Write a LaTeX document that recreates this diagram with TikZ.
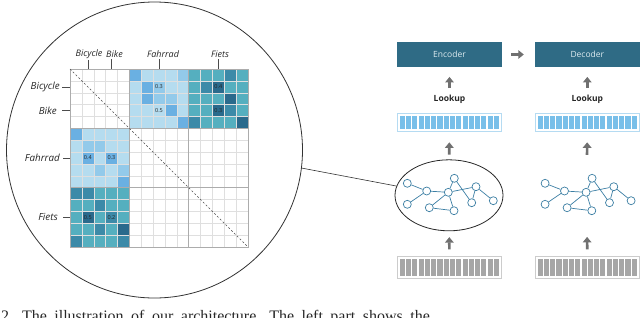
\documentclass[tikz,border=0pt]{standalone}
\usepackage{fontspec}
\setmainfont{Liberation Serif}
\newfontfamily\osans{Open Sans}
\usetikzlibrary{arrows.meta,shapes.geometric}
\definecolor{cL}{HTML}{B5DCEF}
\definecolor{cM}{HTML}{6AB0E2}
\definecolor{cN}{HTML}{93CAEA}
\definecolor{cT}{HTML}{55AFBF}
\definecolor{cD}{HTML}{3C8AA8}
\definecolor{cK}{HTML}{2A6A8C}
\definecolor{cW}{HTML}{FFFFFF}
\definecolor{encc}{HTML}{2F6B85}
\definecolor{enctext}{HTML}{DDEBF0}
\definecolor{arrc}{HTML}{707070}
\definecolor{bluecell}{HTML}{78BFE9}
\definecolor{blueframe}{HTML}{B5DBF2}
\definecolor{graycell}{HTML}{A6A6A6}
\definecolor{grayframe}{HTML}{CCCCCC}
\definecolor{graphc}{HTML}{3B7EA3}
\begin{document}
\begin{tikzpicture}[x=1pt,y=-1pt,
  lab/.style={font=\osans\itshape\fontsize{9}{10}\selectfont, inner sep=0pt, text=black!85},
  leftlab/.style={font=\osans\itshape\fontsize{9.8}{11}\selectfont, inner sep=0pt, text=black!85},
  num/.style={font=\osans\fontsize{5.5}{6}\selectfont, inner sep=0pt, text=black!85},
  tick/.style={draw=black!70, line width=0.6pt},
  boxnode/.style={fill=encc, minimum width=104.4pt, minimum height=25.6pt, inner sep=0pt, text=enctext, font=\osans\fontsize{8.5}{10}\selectfont},
  lookup/.style={font=\osans\bfseries\fontsize{8.5}{10}\selectfont, text=black!85, inner sep=0pt},
  fatarrow/.style={draw=arrc, line width=2.7pt, -{Triangle[width=8.5pt,length=5.5pt]}},
  gnode/.style={circle, draw=graphc, fill=white, line width=0.7pt, minimum size=8pt, inner sep=0pt},
  gedge/.style={draw=graphc, line width=0.7pt},
  barnode/.style={minimum width=104.4pt, inner sep=0pt, line width=1.2pt, fill=white}
]
\useasboundingbox (0,0) rectangle (640,317);
\clip (0,0) rectangle (640,317);

% ---------------- similarity matrix ----------------
\def\mx{70}\def\my{69}\def\ms{11.8667}
\foreach \row [count=\r from 0] in {
 {W,W,W,W,W,M,L,L,L,N,T,T,T,D,T},
 {W,W,W,W,W,L,M,N,L,L,T,D,K,T,T},
 {W,W,W,W,W,L,M,N,N,L,T,T,T,K,T},
 {W,W,W,W,W,L,L,L,M,L,T,T,K,D,T},
 {W,W,W,W,W,L,L,L,L,M,D,T,T,T,K},
 {M,L,L,L,L,W,W,W,W,W,W,W,W,W,W},
 {L,N,N,L,L,W,W,W,W,W,W,W,W,W,W},
 {L,M,L,M,L,W,W,W,W,W,W,W,W,W,W},
 {L,L,N,L,N,W,W,W,W,W,W,W,W,W,W},
 {L,L,L,L,M,W,W,W,W,W,W,W,W,W,W},
 {D,D,T,T,T,W,W,W,W,W,W,W,W,W,W},
 {T,T,D,T,T,W,W,W,W,W,W,W,W,W,W},
 {T,K,T,D,T,W,W,W,W,W,W,W,W,W,W},
 {T,T,D,T,K,W,W,W,W,W,W,W,W,W,W},
 {D,T,T,T,D,W,W,W,W,W,W,W,W,W,W}} {
  \foreach \c [count=\k from 0] in \row {
    \fill[c\c] ({\mx+\k*\ms},{\my+\r*\ms}) rectangle ++(\ms,\ms);
  }
}
\foreach \i in {1,...,14} {
  \draw[gray!25, line width=0.4pt] ({\mx+\i*\ms},\my) -- ++(0,178);
  \draw[gray!25, line width=0.4pt] (\mx,{\my+\i*\ms}) -- ++(178,0);
}
\foreach \i in {5,10} {
  \draw[gray!65, line width=0.6pt] ({\mx+\i*\ms},\my) -- ++(0,178);
  \draw[gray!65, line width=0.6pt] (\mx,{\my+\i*\ms}) -- ++(178,0);
}
\draw[gray!65, line width=0.7pt] (\mx,\my) rectangle ++(178,178);
\draw[black!70, line width=0.5pt, dash pattern=on 2pt off 2pt] (\mx,\my) -- ++(178,178);

\node[num] (v1) at (159,86.8) {0.3};
\node[num] (v2) at (159,110.5) {0.5};
\node[num] (v3) at (218.3,86.8) {0.4};
\node[num] (v4) at (218.3,110.5) {0.3};
\node[num] (v5) at (87.8,158) {0.4};
\node[num] (v6) at (111.5,158) {0.3};
\node[num] (v7) at (87.8,217.3) {0.5};
\node[num] (v8) at (111.5,217.3) {0.2};

% top labels
\node[lab] (tBicycle) at (89,54) {Bicycle};
\node[lab] (tBike) at (114.5,54) {Bike};
\node[lab] (tFahrrad) at (163,54) {Fahrrad};
\node[lab] (tFiets) at (220,54) {Fiets};
\coordinate (mBicycleT) at (87.8,69);
\coordinate (mBikeT) at (111.5,69);
\coordinate (mFahrradT) at (159,69);
\coordinate (mFietsT) at (218.3,69);
\draw[tick] (mBicycleT |- tBicycle.south) ++(0,1.5) -- (mBicycleT);
\draw[tick] (mBikeT |- tBike.south) ++(0,1.5) -- (mBikeT);
\draw[tick] (mFahrradT |- tFahrrad.south) ++(0,1.5) -- (mFahrradT);
\draw[tick] (mFietsT |- tFiets.south) ++(0,1.5) -- (mFietsT);

% left labels
\node[leftlab, anchor=east] (lBicycle) at (60,86.8) {Bicycle};
\node[leftlab, anchor=east] (lBike) at (57,110.5) {Bike};
\node[leftlab, anchor=east] (lFahrrad) at (60,158) {Fahrrad};
\node[leftlab, anchor=east] (lFiets) at (58,217.3) {Fiets};
\coordinate (mBicycleL) at (70,86.8);
\coordinate (mBikeL) at (70,110.5);
\coordinate (mFahrradL) at (70,158);
\coordinate (mFietsL) at (70,217.3);
\draw[tick, shorten <=2pt] (lBicycle.east) -- (mBicycleL);
\draw[tick, shorten <=5pt] (lBike.east) -- (mBikeL);
\draw[tick, shorten <=3pt] (lFahrrad.east) -- (mFahrradL);
\draw[tick, shorten <=5pt] (lFiets.east) -- (mFietsL);

% magnifier circle
\node[circle, draw=black!80, line width=0.8pt, minimum size=296pt, inner sep=0pt] (zoom) at (154.5,150) {};

% ---------------- right part ----------------
\node[boxnode] (enc) at (449.5,54.5) {Encoder};
\node[boxnode] (dec) at (587.3,54.5) {Decoder};
\node[lookup] (lk1) at (449.5,99) {Lookup};
\node[lookup] (lk2) at (587.3,99) {Lookup};

\node[barnode, draw=blueframe, minimum height=18.4pt] (eb1) at (449.5,122.5) {};
\node[barnode, draw=blueframe, minimum height=18.4pt] (eb2) at (587.3,122.5) {};
\node[barnode, draw=grayframe, minimum height=21.6pt] (gb1) at (449.5,267.5) {};
\node[barnode, draw=grayframe, minimum height=21.6pt] (gb2) at (587.3,267.5) {};
\foreach \b/\dx in {0/0, 1/137.8} {
  \foreach \i in {0,...,15} {
    \fill[bluecell] ({399.8+\dx+\i*6.275},115.8) rectangle ++(5.1,13.4);
    \fill[graycell] ({399.8+\dx+\i*6.275},259.2) rectangle ++(5.1,16.6);
  }
}

\node[ellipse, draw=black!85, line width=0.8pt, minimum width=108pt, minimum height=71pt, inner sep=0pt] (ell) at (449,195.3) {};
\node[ellipse, minimum width=108pt, minimum height=71pt, inner sep=0pt] (ell2) at (586.8,195.3) {};

\foreach \g/\dx in {a/0, b/137.8} {
  \foreach \n/\px/\py in {1/-41.7/-12, 2/-22.3/-4.3, 3/-41.7/9, 4/-0.7/-3, 5/5.3/-17,
                          6/27/-8.6, 7/44.3/5.4, 8/22.7/7.4, 9/-19.7/12.4, 10/5/15.4} {
    \node[gnode] (\g\n) at ({449+\dx+\px},{195.3+\py}) {};
  }
  \foreach \p/\q in {1/2, 2/3, 2/4, 4/5, 4/6, 5/8, 6/8, 6/7, 4/9, 4/10, 9/10} {
    \draw[gedge] (\g\p) -- (\g\q);
  }
}

% arrows
\draw[fatarrow, shorten <=6.4pt, shorten >=9.4pt] (lk1) -- (enc);
\draw[fatarrow, shorten <=6.4pt, shorten >=9.4pt] (lk2) -- (dec);
\draw[fatarrow, shorten <=4.8pt, shorten >=10pt] (ell) -- (eb1);
\draw[fatarrow, shorten <=4.8pt, shorten >=10pt] (ell2) -- (eb2);
\draw[fatarrow, shorten <=6.7pt, shorten >=5.9pt] (gb1) -- (ell);
\draw[fatarrow, shorten <=6.7pt, shorten >=5.9pt] (gb2) -- (ell2);
\draw[fatarrow, shorten <=9.3pt, shorten >=11.1pt] (enc) -- (dec);

% connector from magnifier to graph
\draw[black!80, line width=0.6pt] (zoom.-7) -- (ell.170);

% caption (cut off at the bottom, as in the reference)
\node[anchor=base west, inner sep=0pt, font=\fontsize{16}{18}\selectfont, text=black!85] (cap) at (1,321) {\spaceskip=7.5pt plus 1pt 2. The illustration of our architecture. The left part shows the};
\end{tikzpicture}
\end{document}
